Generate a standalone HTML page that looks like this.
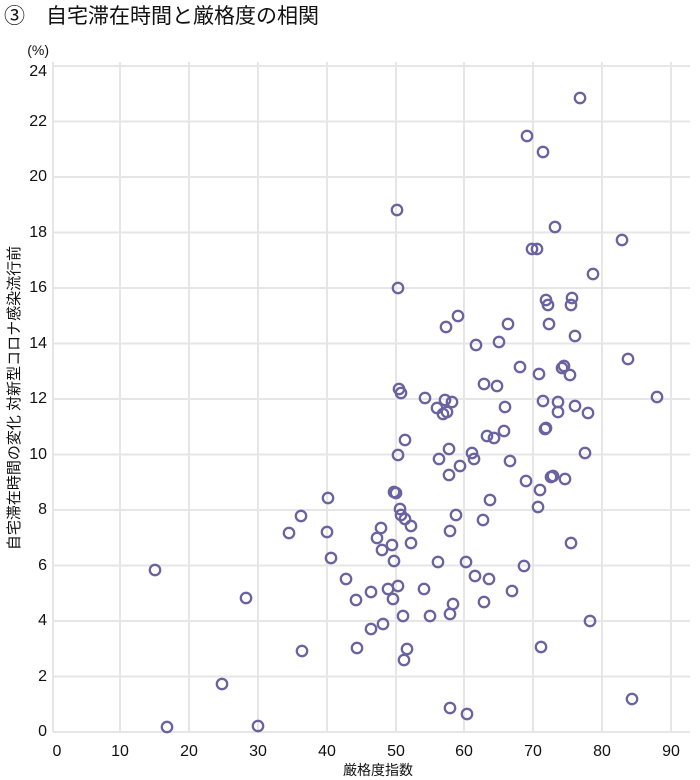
<!DOCTYPE html>
<html><head><meta charset="utf-8"><style>
body{margin:0;background:#fff;}
svg{display:block;font-family:"Liberation Sans","Noto Sans CJK JP",sans-serif;}
</style></head><body>
<svg width="700" height="780" xmlns="http://www.w3.org/2000/svg">
<text x="4" y="23" font-size="21" fill="#111">③　自宅滞在時間と厳格度の相関</text>
<g stroke="#e6e6e6" stroke-width="2">
<line x1="53" y1="62" x2="53" y2="732"/><line x1="120" y1="62" x2="120" y2="732"/><line x1="189" y1="62" x2="189" y2="732"/><line x1="258" y1="62" x2="258" y2="732"/><line x1="327" y1="62" x2="327" y2="732"/><line x1="396" y1="62" x2="396" y2="732"/><line x1="464" y1="62" x2="464" y2="732"/><line x1="533" y1="62" x2="533" y2="732"/><line x1="602" y1="62" x2="602" y2="732"/><line x1="671" y1="62" x2="671" y2="732"/>
<line x1="53" y1="732" x2="690" y2="732"/><line x1="53" y1="676.5" x2="690" y2="676.5"/><line x1="53" y1="621" x2="690" y2="621"/><line x1="53" y1="565.5" x2="690" y2="565.5"/><line x1="53" y1="510" x2="690" y2="510"/><line x1="53" y1="454.5" x2="690" y2="454.5"/><line x1="53" y1="399" x2="690" y2="399"/><line x1="53" y1="343.5" x2="690" y2="343.5"/><line x1="53" y1="288" x2="690" y2="288"/><line x1="53" y1="232.5" x2="690" y2="232.5"/><line x1="53" y1="177" x2="690" y2="177"/><line x1="53" y1="121.5" x2="690" y2="121.5"/><line x1="53" y1="66" x2="690" y2="66"/>
</g>
<g font-size="16" fill="#111" text-anchor="end">
<text x="47" y="736">0</text><text x="47" y="681">2</text><text x="47" y="625">4</text><text x="47" y="570">6</text><text x="47" y="514">8</text><text x="47" y="459">10</text><text x="47" y="403">12</text><text x="47" y="348">14</text><text x="47" y="292">16</text><text x="47" y="237">18</text><text x="47" y="181">20</text><text x="47" y="126">22</text><text x="47" y="76">24</text>
<text x="49" y="55" font-size="14">(%)</text>
</g>
<g font-size="16" fill="#111" text-anchor="middle">
<text x="57" y="756">0</text><text x="120" y="756">10</text><text x="189" y="756">20</text><text x="258" y="756">30</text><text x="327" y="756">40</text><text x="396" y="756">50</text><text x="464" y="756">60</text><text x="533" y="756">70</text><text x="602" y="756">80</text><text x="671" y="756">90</text>
<text x="378" y="775" font-size="14">厳格度指数</text>
<text transform="translate(19,398) rotate(-90)" font-size="15">自宅滞在時間の変化 対新型コロナ感染流行前</text>
</g>
<g fill="none" stroke="#6b63a0" stroke-width="2.3">
<circle cx="155" cy="570" r="5.2"/><circle cx="167" cy="727" r="5.2"/><circle cx="222" cy="684" r="5.2"/><circle cx="246" cy="598" r="5.2"/><circle cx="258" cy="726" r="5.2"/><circle cx="289" cy="533" r="5.2"/><circle cx="301" cy="516" r="5.2"/><circle cx="302" cy="651" r="5.2"/><circle cx="327" cy="532" r="5.2"/><circle cx="328" cy="498" r="5.2"/><circle cx="331" cy="558" r="5.2"/><circle cx="346" cy="579" r="5.2"/><circle cx="356" cy="600" r="5.2"/><circle cx="357" cy="648" r="5.2"/><circle cx="371" cy="629" r="5.2"/><circle cx="371" cy="592" r="5.2"/><circle cx="377" cy="538" r="5.2"/><circle cx="381" cy="528" r="5.2"/><circle cx="382" cy="550" r="5.2"/><circle cx="383" cy="624" r="5.2"/><circle cx="388" cy="589" r="5.2"/><circle cx="392" cy="545" r="5.2"/><circle cx="394" cy="492" r="5.2"/><circle cx="396" cy="493" r="5.2"/><circle cx="393" cy="599" r="5.2"/><circle cx="394" cy="561" r="5.2"/><circle cx="398" cy="586" r="5.2"/><circle cx="397" cy="210" r="5.2"/><circle cx="398" cy="288" r="5.2"/><circle cx="399" cy="389" r="5.2"/><circle cx="401" cy="393" r="5.2"/><circle cx="398" cy="455" r="5.2"/><circle cx="403" cy="616" r="5.2"/><circle cx="404" cy="660" r="5.2"/><circle cx="407" cy="649" r="5.2"/><circle cx="405" cy="440" r="5.2"/><circle cx="411" cy="526" r="5.2"/><circle cx="411" cy="543" r="5.2"/><circle cx="400" cy="509" r="5.2"/><circle cx="401" cy="515" r="5.2"/><circle cx="405" cy="519" r="5.2"/><circle cx="424" cy="589" r="5.2"/><circle cx="425" cy="398" r="5.2"/><circle cx="430" cy="616" r="5.2"/><circle cx="437" cy="408" r="5.2"/><circle cx="438" cy="562" r="5.2"/><circle cx="439" cy="459" r="5.2"/><circle cx="443" cy="414" r="5.2"/><circle cx="445" cy="400" r="5.2"/><circle cx="446" cy="327" r="5.2"/><circle cx="447" cy="412" r="5.2"/><circle cx="449" cy="449" r="5.2"/><circle cx="450" cy="614" r="5.2"/><circle cx="449" cy="475" r="5.2"/><circle cx="450" cy="531" r="5.2"/><circle cx="452" cy="402" r="5.2"/><circle cx="453" cy="604" r="5.2"/><circle cx="450" cy="708" r="5.2"/><circle cx="456" cy="515" r="5.2"/><circle cx="458" cy="316" r="5.2"/><circle cx="460" cy="466" r="5.2"/><circle cx="466" cy="562" r="5.2"/><circle cx="467" cy="714" r="5.2"/><circle cx="472" cy="453" r="5.2"/><circle cx="474" cy="459" r="5.2"/><circle cx="475" cy="576" r="5.2"/><circle cx="476" cy="345" r="5.2"/><circle cx="483" cy="520" r="5.2"/><circle cx="484" cy="602" r="5.2"/><circle cx="484" cy="384" r="5.2"/><circle cx="487" cy="436" r="5.2"/><circle cx="489" cy="579" r="5.2"/><circle cx="490" cy="500" r="5.2"/><circle cx="494" cy="438" r="5.2"/><circle cx="497" cy="386" r="5.2"/><circle cx="499" cy="342" r="5.2"/><circle cx="504" cy="431" r="5.2"/><circle cx="505" cy="407" r="5.2"/><circle cx="508" cy="324" r="5.2"/><circle cx="510" cy="461" r="5.2"/><circle cx="512" cy="591" r="5.2"/><circle cx="520" cy="367" r="5.2"/><circle cx="524" cy="566" r="5.2"/><circle cx="526" cy="481" r="5.2"/><circle cx="527" cy="136" r="5.2"/><circle cx="532" cy="249" r="5.2"/><circle cx="537" cy="249" r="5.2"/><circle cx="538" cy="507" r="5.2"/><circle cx="539" cy="374" r="5.2"/><circle cx="540" cy="490" r="5.2"/><circle cx="541" cy="647" r="5.2"/><circle cx="543" cy="152" r="5.2"/><circle cx="545" cy="429" r="5.2"/><circle cx="546" cy="428" r="5.2"/><circle cx="543" cy="401" r="5.2"/><circle cx="546" cy="300" r="5.2"/><circle cx="548" cy="305" r="5.2"/><circle cx="549" cy="324" r="5.2"/><circle cx="551" cy="477" r="5.2"/><circle cx="553" cy="476" r="5.2"/><circle cx="555" cy="227" r="5.2"/><circle cx="558" cy="402" r="5.2"/><circle cx="558" cy="412" r="5.2"/><circle cx="562" cy="368" r="5.2"/><circle cx="564" cy="366" r="5.2"/><circle cx="565" cy="479" r="5.2"/><circle cx="570" cy="375" r="5.2"/><circle cx="571" cy="543" r="5.2"/><circle cx="571" cy="305" r="5.2"/><circle cx="572" cy="298" r="5.2"/><circle cx="575" cy="406" r="5.2"/><circle cx="575" cy="336" r="5.2"/><circle cx="580" cy="98" r="5.2"/><circle cx="585" cy="453" r="5.2"/><circle cx="588" cy="413" r="5.2"/><circle cx="590" cy="621" r="5.2"/><circle cx="593" cy="274" r="5.2"/><circle cx="622" cy="240" r="5.2"/><circle cx="628" cy="359" r="5.2"/><circle cx="632" cy="699" r="5.2"/><circle cx="657" cy="397" r="5.2"/>
</g>
</svg>
</body></html>
